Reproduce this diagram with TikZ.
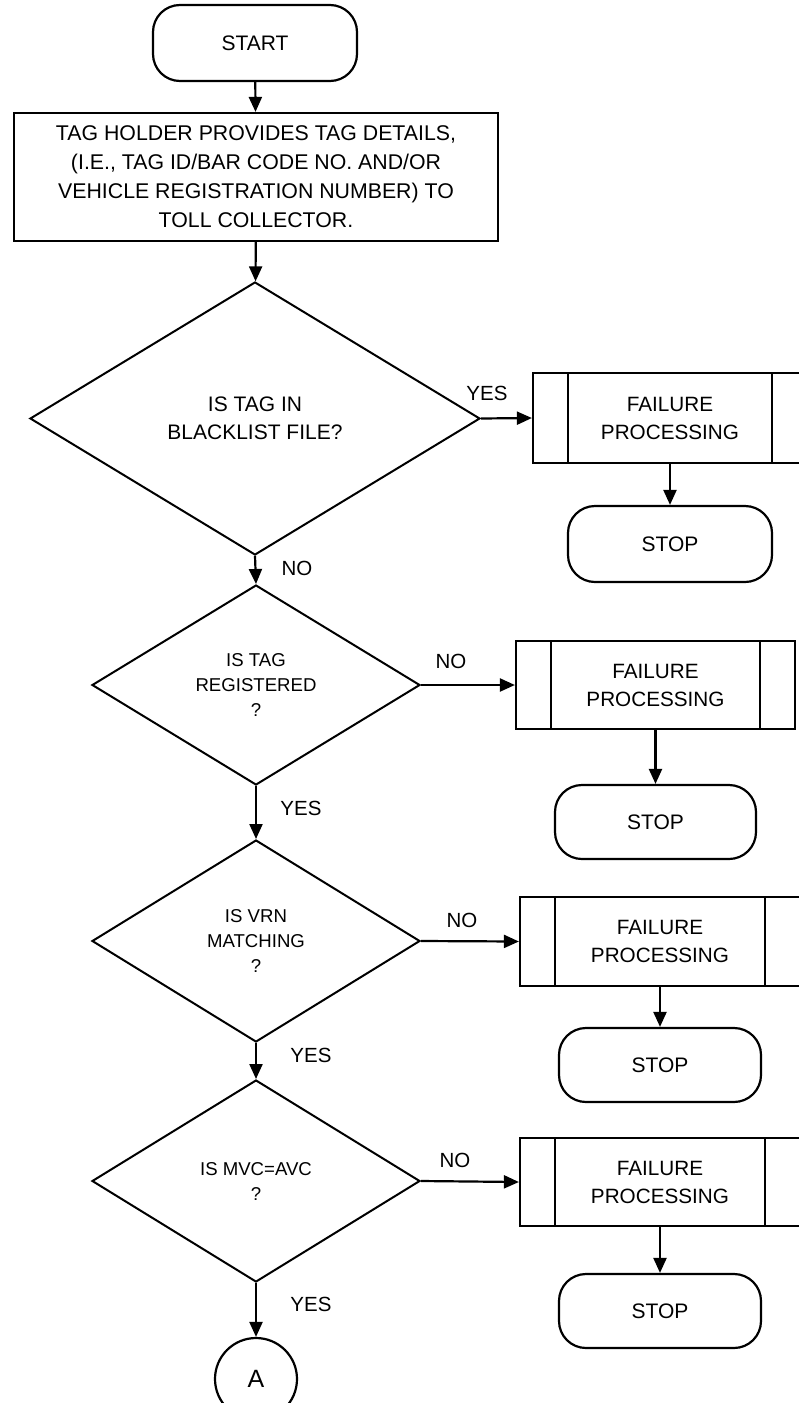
\documentclass[tikz,border=0pt]{standalone}
\usepackage{fontspec}
\setmainfont{Liberation Sans}
\usetikzlibrary{shapes.geometric,arrows.meta}

\tikzset{
  base/.style={draw=black, line width=2.2pt, align=center, inner sep=0pt,
    font=\fontsize{21}{28}\selectfont},
  terminal/.style={base, rectangle, rounded corners=27pt,
    minimum width=204pt, minimum height=76pt},
  procbox/.style={base, rectangle, minimum width=484pt, minimum height=128pt,
    font=\fontsize{21.3}{29}\selectfont},
  decision/.style={base, diamond, line width=2pt},
  smalltext/.style={font=\fontsize{18.6}{25}\selectfont},
  failbox/.style={base, rectangle, minimum width=280pt, minimum height=89pt,
    font=\fontsize{20.7}{28}\selectfont,
    path picture={
      \draw[line width=2.2pt]
        ([xshift=35pt]path picture bounding box.north west) --
        ([xshift=35pt]path picture bounding box.south west)
        ([xshift=-35pt]path picture bounding box.north east) --
        ([xshift=-35pt]path picture bounding box.south east);
    }},
  connector/.style={base, circle, minimum size=82pt, font=\fontsize{25}{28}\selectfont},
  flow/.style={line width=2.2pt, -{Triangle[length=15pt,width=13pt]}},
  lbl/.style={font=\fontsize{20.5}{24}\selectfont, inner sep=0pt}
}

\begin{document}
\begin{tikzpicture}[x=1pt, y=-1pt]
  \useasboundingbox (0,0) rectangle (798,1403);

  % main column
  \node[terminal] (start) at (255,43) {START};
  \node[procbox] (details) at (256,177)
    {TAG HOLDER PROVIDES TAG DETAILS,\\(I.E., TAG ID/BAR CODE NO. AND/OR\\VEHICLE REGISTRATION NUMBER) TO\\TOLL COLLECTOR.};
  \node[decision, minimum width=450pt, minimum height=273pt] (blk) at (255,418.5)
    {IS TAG IN\\BLACKLIST FILE?};
  \node[decision, smalltext, minimum width=328pt, minimum height=200pt] (reg) at (256,685)
    {IS TAG\\REGISTERED\\?};
  \node[decision, smalltext, minimum width=328pt, minimum height=202pt] (vrn) at (256,941)
    {IS VRN\\MATCHING\\?};
  \node[decision, smalltext, minimum width=328pt, minimum height=202pt] (mvc) at (256,1181)
    {IS MVC=AVC\\?};
  \node[connector] (conA) at (256,1379) {A};

  % failure branches
  \node[failbox, minimum width=274pt, minimum height=90pt] (fail1) at (670,418) {FAILURE\\PROCESSING};
  \node[terminal] (stop1) at (670,544) {STOP};
  \node[failbox, minimum width=279pt, minimum height=88pt] (fail2) at (655.5,685) {FAILURE\\PROCESSING};
  \node[terminal, minimum width=201pt, minimum height=74pt] (stop2) at (655.5,822) {STOP};
  \node[failbox] (fail3) at (660,941.5) {FAILURE\\PROCESSING};
  \node[terminal, minimum width=202pt, minimum height=74pt] (stop3) at (660,1065) {STOP};
  \node[failbox, minimum height=88pt] (fail4) at (660,1182) {FAILURE\\PROCESSING};
  \node[terminal, minimum width=202pt, minimum height=74pt] (stop4) at (660,1311) {STOP};

  % connectors
  \draw[flow] (start) -- (details);
  \draw[flow] (details) -- (blk);
  \draw[flow] (blk.east) -- (fail1.west);
  \draw[flow] (fail1) -- (stop1);
  \draw[flow] (blk.south) -- (reg.north);
  \draw[flow] (reg.east) -- (fail2.west);
  \draw[flow] (fail2) -- (stop2);
  \draw[flow] (reg.south) -- (vrn.north);
  \draw[flow] (vrn.east) -- (fail3.west);
  \draw[flow] (fail3) -- (stop3);
  \draw[flow] (vrn.south) -- (mvc.north);
  \draw[flow] (mvc.east) -- (fail4.west);
  \draw[flow] (fail4) -- (stop4);
  \draw[flow] (mvc.south) -- (conA);

  % branch labels
  \node[lbl] (yes1) at (487,393) {YES};
  \node[lbl] (no1) at (297,568) {NO};
  \node[lbl] (no2) at (451,661) {NO};
  \node[lbl] (yes2) at (301,808) {YES};
  \node[lbl] (no3) at (462,920) {NO};
  \node[lbl] (yes3) at (311,1055) {YES};
  \node[lbl] (no4) at (455,1160) {NO};
  \node[lbl] (yes4) at (311,1304) {YES};
\end{tikzpicture}
\end{document}
